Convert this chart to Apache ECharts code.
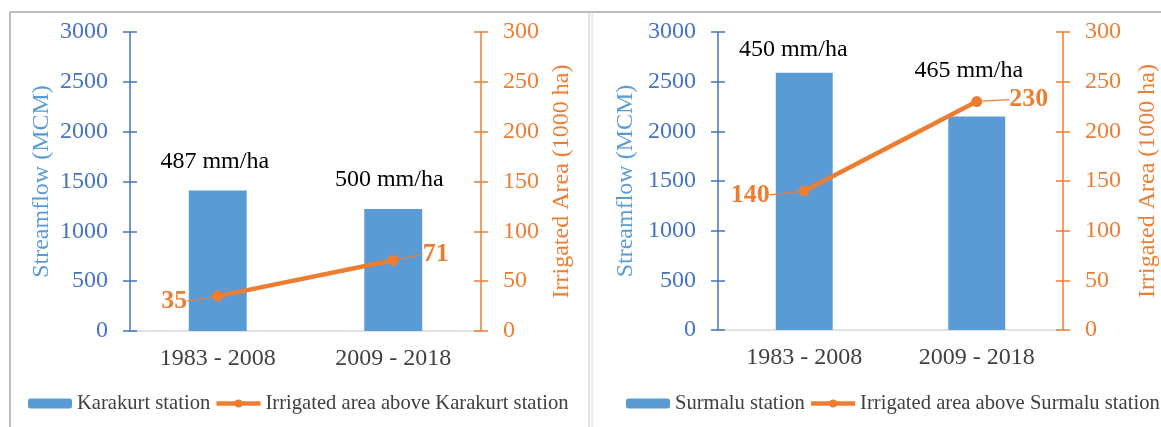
<!DOCTYPE html>
<html>
<head>
<meta charset="utf-8">
<script src="https://cdn.jsdelivr.net/npm/echarts@6/dist/echarts.min.js"></script>
<style>html,body{margin:0;padding:0;background:#fff}#c{width:1161px;height:427px}</style>
</head>
<body>
<div id="c"></div>
<script>
// ---- data ----
const periods = ['1983 - 2008', '2009 - 2018'];
const karakurtFlow = [1410, 1225];
const karakurtArea = [35, 71];
const karakurtRate = ['487 mm/ha', '500 mm/ha'];
const surmaluFlow = [2590, 2150];
const surmaluArea = [140, 230];
const surmaluRate = ['450 mm/ha', '465 mm/ha'];
const flowTicks = [0, 500, 1000, 1500, 2000, 2500, 3000];
const areaTicks = [0, 50, 100, 150, 200, 250, 300];
const names = {
  kBar: 'Karakurt station', kLine: 'Irrigated area above Karakurt station',
  sBar: 'Surmalu station', sLine: 'Irrigated area above Surmalu station'
};

// ---- styles ----
const FONT = 'Liberation Serif';
const BLUE = '#5B9BD5', BLUE_AX = '#4472C4', ORANGE = '#ED7D31';
const chart = echarts.init(document.getElementById('c'));

function flowAxis(gi, withLabels) {
  return {
    type: 'value', gridIndex: gi, position: 'left',
    min: flowTicks[0], max: flowTicks[flowTicks.length - 1], interval: flowTicks[1] - flowTicks[0],
    name: withLabels ? 'Streamflow (MCM)' : '', nameLocation: 'middle', nameRotate: 90,
    nameGap: gi === 0 ? 76 : 80,
    nameTextStyle: { fontFamily: FONT, fontSize: 24, color: BLUE },
    axisLine: { show: withLabels, lineStyle: { color: BLUE_AX, width: 1.5 } },
    axisTick: { show: true, inside: !withLabels, length: 7, lineStyle: { color: BLUE_AX, width: 1.5 } },
    axisLabel: { show: withLabels, margin: 22, fontFamily: FONT, fontSize: 24, color: BLUE_AX,
      formatter: v => String(v) },
    splitLine: { show: false }
  };
}
function areaAxis(gi, withLabels) {
  return {
    type: 'value', gridIndex: gi, position: 'right',
    min: areaTicks[0], max: areaTicks[areaTicks.length - 1], interval: areaTicks[1] - areaTicks[0],
    name: withLabels ? 'Irrigated Area (1000 ha)' : '', nameLocation: 'middle', nameRotate: 90,
    nameGap: gi === 0 ? 69 : 73,
    nameTextStyle: { fontFamily: FONT, fontSize: 24, color: ORANGE },
    axisLine: { show: withLabels, lineStyle: { color: ORANGE, width: 1.5 } },
    axisTick: { show: true, inside: !withLabels, length: 7, lineStyle: { color: ORANGE, width: 1.5 } },
    axisLabel: { show: withLabels, margin: 22, fontFamily: FONT, fontSize: 24, color: ORANGE,
      formatter: v => String(v) },
    splitLine: { show: false }
  };
}
function catAxis(gi) {
  return {
    type: 'category', gridIndex: gi, data: periods, boundaryGap: true,
    axisLine: { lineStyle: { color: '#D9D9D9', width: 1.5 } },
    axisTick: { show: false },
    axisLabel: { margin: 16, fontFamily: FONT, fontSize: 24, color: '#404040' }
  };
}
function barSeries(name, xi, yi, vals, rates, offs) {
  return {
    type: 'bar', name, xAxisIndex: xi, yAxisIndex: yi, barWidth: '33%',
    itemStyle: { color: BLUE },
    data: vals.map((v, i) => ({ value: v, label: { offset: offs[i] } })),
    label: {
      show: true, position: 'top', distance: 5,
      fontFamily: FONT, fontSize: 24, color: '#000',
      formatter: p => rates[p.dataIndex]
    },
    z: 2
  };
}
function lineSeries(name, xi, yi, vals, shifts) {
  return {
    type: 'line', name, xAxisIndex: xi, yAxisIndex: yi, data: vals,
    symbol: 'circle', symbolSize: 11,
    lineStyle: { color: ORANGE, width: 4.5 },
    itemStyle: { color: ORANGE },
    label: {
      show: true,
      position: 'left',
      fontFamily: FONT, fontSize: 26, fontWeight: 'bold', color: ORANGE,
      formatter: p => String(p.value)
    },
    labelLine: { show: true, lineStyle: { color: ORANGE, width: 1.2 } },
    labelLayout: p => ({ dx: shifts[p.dataIndex][0], dy: shifts[p.dataIndex][1] }),
    z: 5
  };
}

const legendText = { fontFamily: FONT, fontSize: 20.6, color: '#404040' };
function legend(data, left) {
  return {
    data, left, top: 393, width: 600, padding: 0,
    itemWidth: 44, itemHeight: 10, itemGap: 4, textStyle: legendText,
    lineStyle: { width: 4.5 }, itemStyle: {}
  };
}
const option = {
  animation: false,
  backgroundColor: '#fff',
  textStyle: { fontFamily: FONT },
  grid: [
    { left: 130, right: 680, top: 32, bottom: 96 },
    { left: 718, right: 96, top: 32, bottom: 97 }
  ],
  xAxis: [catAxis(0), catAxis(1)],
  yAxis: [
    flowAxis(0, true), areaAxis(0, true), flowAxis(1, true), areaAxis(1, true),
    flowAxis(0, false), areaAxis(0, false), flowAxis(1, false), areaAxis(1, false)
  ],
  legend: [
    legend([names.kBar, names.kLine], 28),
    legend([names.sBar, names.sLine], 626)
  ],
  series: [
    barSeries(names.kBar, 0, 0, karakurtFlow, karakurtRate, [[-3, -12], [-4, -12]]),
    lineSeries(names.kLine, 0, 1, karakurtArea, [[-20, 5], [66, -6]]),
    barSeries(names.sBar, 1, 2, surmaluFlow, surmaluRate, [[-11, -6], [-8, -29]]),
    lineSeries(names.sLine, 1, 3, surmaluArea, [[-24, 4], [82, -2]])
  ],
  graphic: [
    { type: 'line', shape: { x1: 10, y1: 12, x2: 1161, y2: 12 }, style: { stroke: '#A6A6A6', lineWidth: 1.5 } },
    { type: 'line', shape: { x1: 10, y1: 12, x2: 10, y2: 427 }, style: { stroke: '#A6A6A6', lineWidth: 1.5 } },
    { type: 'line', shape: { x1: 589, y1: 12, x2: 589, y2: 427 }, style: { stroke: '#C8C8C8', lineWidth: 1 } },
    { type: 'line', shape: { x1: 592, y1: 12, x2: 592, y2: 427 }, style: { stroke: '#D8D8D8', lineWidth: 1 } }
  ]
};
chart.setOption(option);
</script>
</body>
</html>
